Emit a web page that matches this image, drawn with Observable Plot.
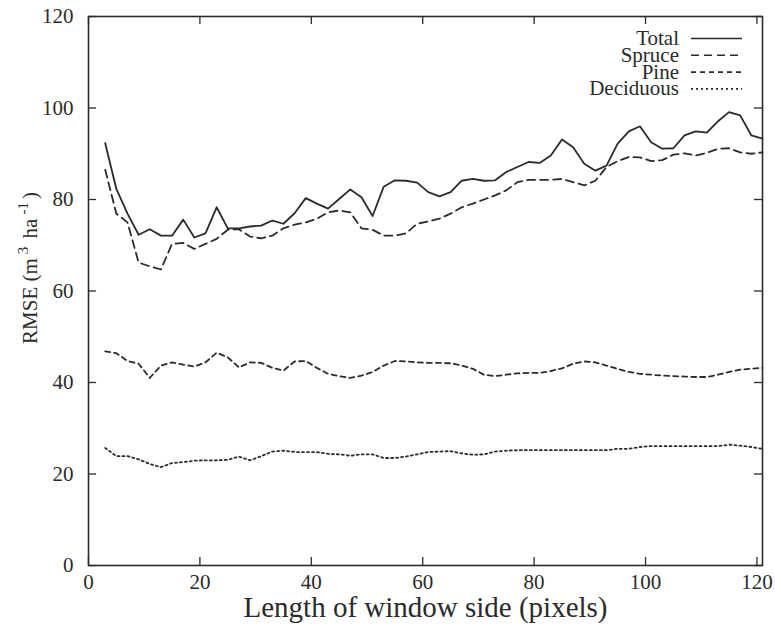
<!DOCTYPE html>
<html><head><meta charset="utf-8">
<script src="https://cdn.jsdelivr.net/npm/d3@7"></script>
<script src="https://cdn.jsdelivr.net/npm/@observablehq/plot@0.6"></script>
<style>
body{margin:0;background:#fff;}
svg, svg text {font-family:"Liberation Serif","Times New Roman","DejaVu Serif",serif !important;}
</style>
</head><body><div id="chart"></div>
<script>
const windowSide = [3,5,7,9,11,13,15,17,19,21,23,25,27,29,31,33,35,37,39,41,43,45,47,49,51,53,55,57,59,61,63,65,67,69,71,73,75,77,79,81,83,85,87,89,91,93,95,97,99,101,103,105,107,109,111,113,115,117,119,121];
const total = [92.3,82.3,76.9,72.3,73.5,72.1,72.1,75.6,71.7,72.6,78.3,73.7,73.7,74.1,74.3,75.4,74.7,77.0,80.3,79.1,78.0,80.1,82.2,80.5,76.4,82.8,84.2,84.1,83.7,81.6,80.7,81.6,84.1,84.5,84.1,84.2,86.0,87.1,88.2,88.0,89.6,93.1,91.4,87.8,86.3,87.4,92.2,94.9,96.0,92.5,91.1,91.2,94.0,94.9,94.6,97.1,99.1,98.4,94.0,93.3];
const spruce = [86.5,76.9,75.0,66.2,65.4,64.7,70.3,70.5,69.2,70.3,71.4,73.4,73.5,71.9,71.5,72.1,73.7,74.5,75.0,75.8,77.2,77.6,77.2,73.7,73.4,72.1,72.1,72.6,74.7,75.2,75.8,76.9,78.3,79.1,80.0,80.9,82.0,83.8,84.3,84.3,84.3,84.5,83.8,83.1,84.1,87.1,88.4,89.3,89.2,88.4,88.6,89.8,90.1,89.6,90.2,91.1,91.2,90.3,90.0,90.3];
const pine = [46.8,46.4,44.7,44.1,41.0,43.7,44.4,43.9,43.5,44.4,46.5,45.5,43.3,44.4,44.3,43.2,42.6,44.6,44.7,43.2,41.9,41.4,41.0,41.5,42.3,43.7,44.7,44.6,44.4,44.3,44.3,44.2,43.7,43.0,41.7,41.4,41.7,42.0,42.1,42.1,42.5,43.1,44.1,44.6,44.4,43.7,43.0,42.3,41.9,41.7,41.5,41.4,41.3,41.2,41.2,41.7,42.3,42.8,43.0,43.2];
const deciduous = [25.7,23.9,23.9,23.2,22.2,21.5,22.4,22.6,22.9,23.0,23.0,23.1,23.8,23.0,23.9,24.9,25.1,24.8,24.8,24.8,24.4,24.3,24.0,24.3,24.3,23.5,23.5,23.8,24.3,24.8,24.9,25.0,24.5,24.2,24.3,24.9,25.1,25.2,25.2,25.2,25.2,25.2,25.2,25.2,25.2,25.2,25.5,25.5,25.9,26.1,26.1,26.1,26.1,26.1,26.1,26.1,26.4,26.2,25.9,25.5];
const seriesNames = ["Total","Spruce","Pine","Deciduous"];
const xTicks = [0,20,40,60,80,100,120];
const yTicks = [0,20,40,60,80,100,120];
const xLabel = "Length of window side (pixels)";
// y label pieces: [text, isSuperscript]
const yLabelParts = [["RMSE (m", false], ["3", true], [" ha", false], ["-1", true], [")", false]];

const seriesValues = [total, spruce, pine, deciduous];
const dashes = [null, "8,5", "5,4", "2,3"];
const ink = "#2b2b2b";
const serif = '"Liberation Serif","Times New Roman",serif';

const marks = [];
seriesValues.forEach((vals, i) => {
  const rows = windowSide.map((x, j) => ({x, y: vals[j]}));
  marks.push(Plot.line(rows, {x: "x", y: "y", stroke: ink, strokeWidth: 1.8, strokeDasharray: dashes[i]}));
});
// inward ticks on all four sides
marks.push(Plot.ruleX(xTicks, {x: d => d, y1: 0, y2: 1.75, stroke: ink, strokeWidth: 1.3}));
marks.push(Plot.ruleX(xTicks, {x: d => d, y1: 120, y2: 118.25, stroke: ink, strokeWidth: 1.3}));
marks.push(Plot.ruleY(yTicks, {y: d => d, x1: 0, x2: 1.45, stroke: ink, strokeWidth: 1.3}));
marks.push(Plot.ruleY(yTicks, {y: d => d, x1: 121, x2: 119.55, stroke: ink, strokeWidth: 1.3}));
marks.push(Plot.frame({stroke: ink, strokeWidth: 1.6}));
marks.push(Plot.axisX({ticks: xTicks, tickSize: 0, tickPadding: 9, fontSize: 21, label: null, fill: ink}));
marks.push(Plot.axisY({ticks: yTicks, tickSize: 0, tickPadding: 15, fontSize: 21, label: null, fill: ink}));
marks.push(Plot.text([xLabel], {frameAnchor: "bottom", lineAnchor: "middle", dy: 42, fontSize: 29, fill: ink}));

const chart = Plot.plot({
  width: 775, height: 625,
  marginLeft: 88, marginRight: 13, marginTop: 16, marginBottom: 60,
  x: {domain: [0, 121]},
  y: {domain: [0, 120]},
  style: {fontFamily: serif, background: "#fff", overflow: "visible"},
  marks
});
document.getElementById("chart").append(chart);
const svg = d3.select(chart);

// y-axis title with true superscripts
const yt = svg.append("text")
  .attr("transform", "translate(37,268) rotate(-90)")
  .attr("text-anchor", "middle")
  .attr("font-family", serif).attr("font-size", 21).attr("fill", ink);
let raised = false;
yLabelParts.forEach(([t, sup]) => {
  const ts = yt.append("tspan").text(t);
  if (sup && !raised) { ts.attr("dy", -9).attr("dx", 4).attr("font-size", 15); raised = true; }
  else if (!sup && raised) { ts.attr("dy", 9).attr("dx", 3); raised = false; }
});

// legend (top right, inside frame)
const lg = svg.append("g").attr("font-family", serif).attr("font-size", 21).attr("fill", ink);
seriesNames.forEach((name, i) => {
  const base = 45 + i * 16.8;
  lg.append("text").attr("x", 679).attr("y", base).attr("text-anchor", "end").text(name);
  lg.append("line").attr("x1", 691).attr("x2", 742).attr("y1", base - 6.5).attr("y2", base - 6.5)
    .attr("stroke", ink).attr("stroke-width", 1.6).attr("stroke-dasharray", dashes[i]);
});
</script></body></html>
